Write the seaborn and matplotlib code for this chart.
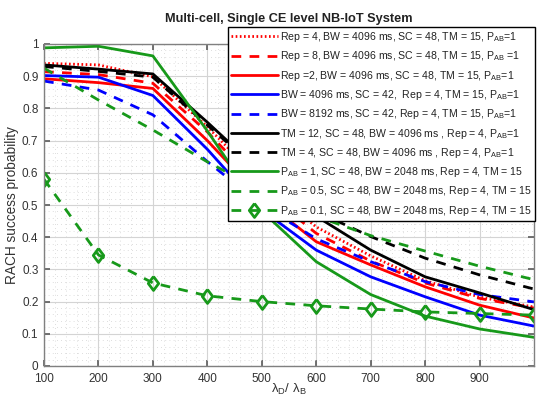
import numpy as np
import pandas as pd
import matplotlib
matplotlib.use("Agg")
import matplotlib.pyplot as plt
import seaborn as sns
from matplotlib.ticker import MultipleLocator

sns.set_theme(style="white")
plt.rcParams['font.family'] = ['Liberation Sans', 'DejaVu Sans']
plt.rcParams['mathtext.default'] = 'regular'

# ---------------- data ----------------
density_ratio = [100, 200, 300, 400, 500, 600, 700, 800, 900, 1000]

rep4_bw4096      = [0.940, 0.935, 0.898, 0.743, 0.570, 0.432, 0.342, 0.265, 0.214, 0.183]
rep8_bw4096      = [0.914, 0.905, 0.878, 0.727, 0.550, 0.412, 0.326, 0.258, 0.210, 0.180]
rep2_bw4096      = [0.892, 0.880, 0.862, 0.700, 0.520, 0.386, 0.314, 0.246, 0.189, 0.149]
bw4096_sc42      = [0.902, 0.897, 0.840, 0.673, 0.485, 0.360, 0.277, 0.215, 0.158, 0.124]
bw8192_sc42      = [0.885, 0.857, 0.780, 0.635, 0.500, 0.395, 0.324, 0.262, 0.222, 0.199]
tm12_sc48        = [0.935, 0.922, 0.907, 0.757, 0.600, 0.465, 0.360, 0.277, 0.227, 0.175]
tm4_sc48         = [0.930, 0.915, 0.897, 0.748, 0.600, 0.480, 0.402, 0.335, 0.283, 0.239]
pab1_bw2048      = [0.988, 0.993, 0.963, 0.730, 0.481, 0.324, 0.222, 0.155, 0.115, 0.089]
pab05_bw2048     = [0.925, 0.826, 0.733, 0.634, 0.545, 0.465, 0.405, 0.357, 0.310, 0.268]
pab01_bw2048     = [0.580, 0.345, 0.258, 0.218, 0.200, 0.187, 0.177, 0.168, 0.163, 0.158]

labels = [
    r"Rep = 4, BW = 4096 ms, SC = 48, TM = 15, P$_{AB}$=1",
    r"Rep = 8, BW = 4096 ms, SC = 48, TM = 15, P$_{AB}$ =1",
    r"Rep =2, BW = 4096 ms, SC = 48, TM = 15, P$_{AB}$=1",
    r"BW = 4096 ms, SC = 42,  Rep = 4, TM = 15, P$_{AB}$=1",
    r"BW = 8192 ms, SC = 42, Rep = 4, TM = 15, P$_{AB}$=1",
    r"TM = 12, SC = 48, BW = 4096 ms , Rep = 4, P$_{AB}$=1",
    r"TM = 4, SC = 48, BW = 4096 ms , Rep = 4, P$_{AB}$=1",
    r"P$_{AB}$ = 1, SC = 48, BW = 2048 ms, Rep = 4, TM = 15",
    r"P$_{AB}$ = 0.5, SC = 48, BW = 2048 ms, Rep = 4, TM = 15",
    r"P$_{AB}$ = 0.1, SC = 48, BW = 2048 ms, Rep = 4, TM = 15",
]
series = [rep4_bw4096, rep8_bw4096, rep2_bw4096, bw4096_sc42, bw8192_sc42,
          tm12_sc48, tm4_sc48, pab1_bw2048, pab05_bw2048, pab01_bw2048]

x_ticks = [100, 200, 300, 400, 500, 600, 700, 800, 900]
y_ticks = [0, 0.1, 0.2, 0.3, 0.4, 0.5, 0.6, 0.7, 0.8, 0.9, 1]
y_ticklabels = ["0", "0.1", "0.2", "0.3", "0.4", "0.5", "0.6", "0.7", "0.8", "0.9", "1"]

# ---------------- styles ----------------
RED, BLUE, BLACK, GREEN = "#ff0000", "#0000ff", "#000000", "#17991a"
DASH = (0, (3.5, 3.0))
DIAMOND = [(0, 1), (0.75, 0), (0, -1), (-0.75, 0), (0, 1)]
styles = [
    dict(color=RED, linestyle=(0, (0.6, 0.9))),
    dict(color=RED, linestyle=DASH),
    dict(color=RED, linestyle="-"),
    dict(color=BLUE, linestyle="-"),
    dict(color=BLUE, linestyle=DASH),
    dict(color=BLACK, linestyle="-"),
    dict(color=BLACK, linestyle=DASH),
    dict(color=GREEN, linestyle="-"),
    dict(color=GREEN, linestyle=DASH),
    dict(color=GREEN, linestyle=DASH, marker=DIAMOND, markersize=10,
         markerfacecolor="none", markeredgecolor=GREEN, markeredgewidth=2),
]

fig = plt.figure(figsize=(5.42, 3.96), dpi=100)
ax = fig.add_axes([44/542, 30/396, 490/542, 322/396])

for vals, lab, st in zip(series, labels, styles):
    df = pd.DataFrame({"x": density_ratio, "y": vals})
    sns.lineplot(data=df, x="x", y="y", ax=ax, label=lab, linewidth=2, **st)

ax.set_xlim(100, 1000)
ax.set_ylim(0, 1)
ax.set_xticks(x_ticks)
ax.set_yticks(y_ticks)
ax.set_yticklabels(y_ticklabels)
ax.xaxis.set_minor_locator(MultipleLocator(20))
ax.yaxis.set_minor_locator(MultipleLocator(0.02))
ax.grid(which="major", color="#d4d4d4", linewidth=0.8, linestyle="-")
ax.grid(which="minor", color="#d2d2d2", linewidth=0.6, linestyle=(0, (1, 4)))
ax.set_axisbelow(True)

for sp in ax.spines.values():
    sp.set_color("#808080")
    sp.set_linewidth(1.0)
ax.tick_params(which="major", direction="in", length=4, color="#606060",
               labelsize=8.5, labelcolor="#333333", top=True, right=True,
               bottom=True, left=True)
ax.tick_params(axis="x", which="major", pad=5)
ax.tick_params(axis="y", which="major", pad=4)
ax.tick_params(which="minor", length=0)

ax.set_xlabel(r"$\lambda_D/\ \lambda_B$", fontsize=9.5, color="#333333", labelpad=-2)
ax.set_ylabel("RACH success probability", fontsize=9.8, color="#333333", labelpad=2)
ax.set_title("Multi-cell, Single CE level NB-IoT System", fontsize=9.2,
             fontweight="bold", color="#222222", pad=16)

leg = ax.legend(loc="upper left", bbox_to_anchor=(228/542, 1 - 27/396),
                bbox_transform=fig.transFigure, borderaxespad=0,
                fontsize=7.6, handlelength=4.4, handletextpad=0.2,
                labelspacing=0.5, borderpad=0.3, fancybox=False,
                frameon=True, framealpha=1, edgecolor="#000000")
leg.get_frame().set_linewidth(1.0)
for t in leg.get_texts():
    t.set_color("#222222")

fig.savefig("out.png", dpi=100)
